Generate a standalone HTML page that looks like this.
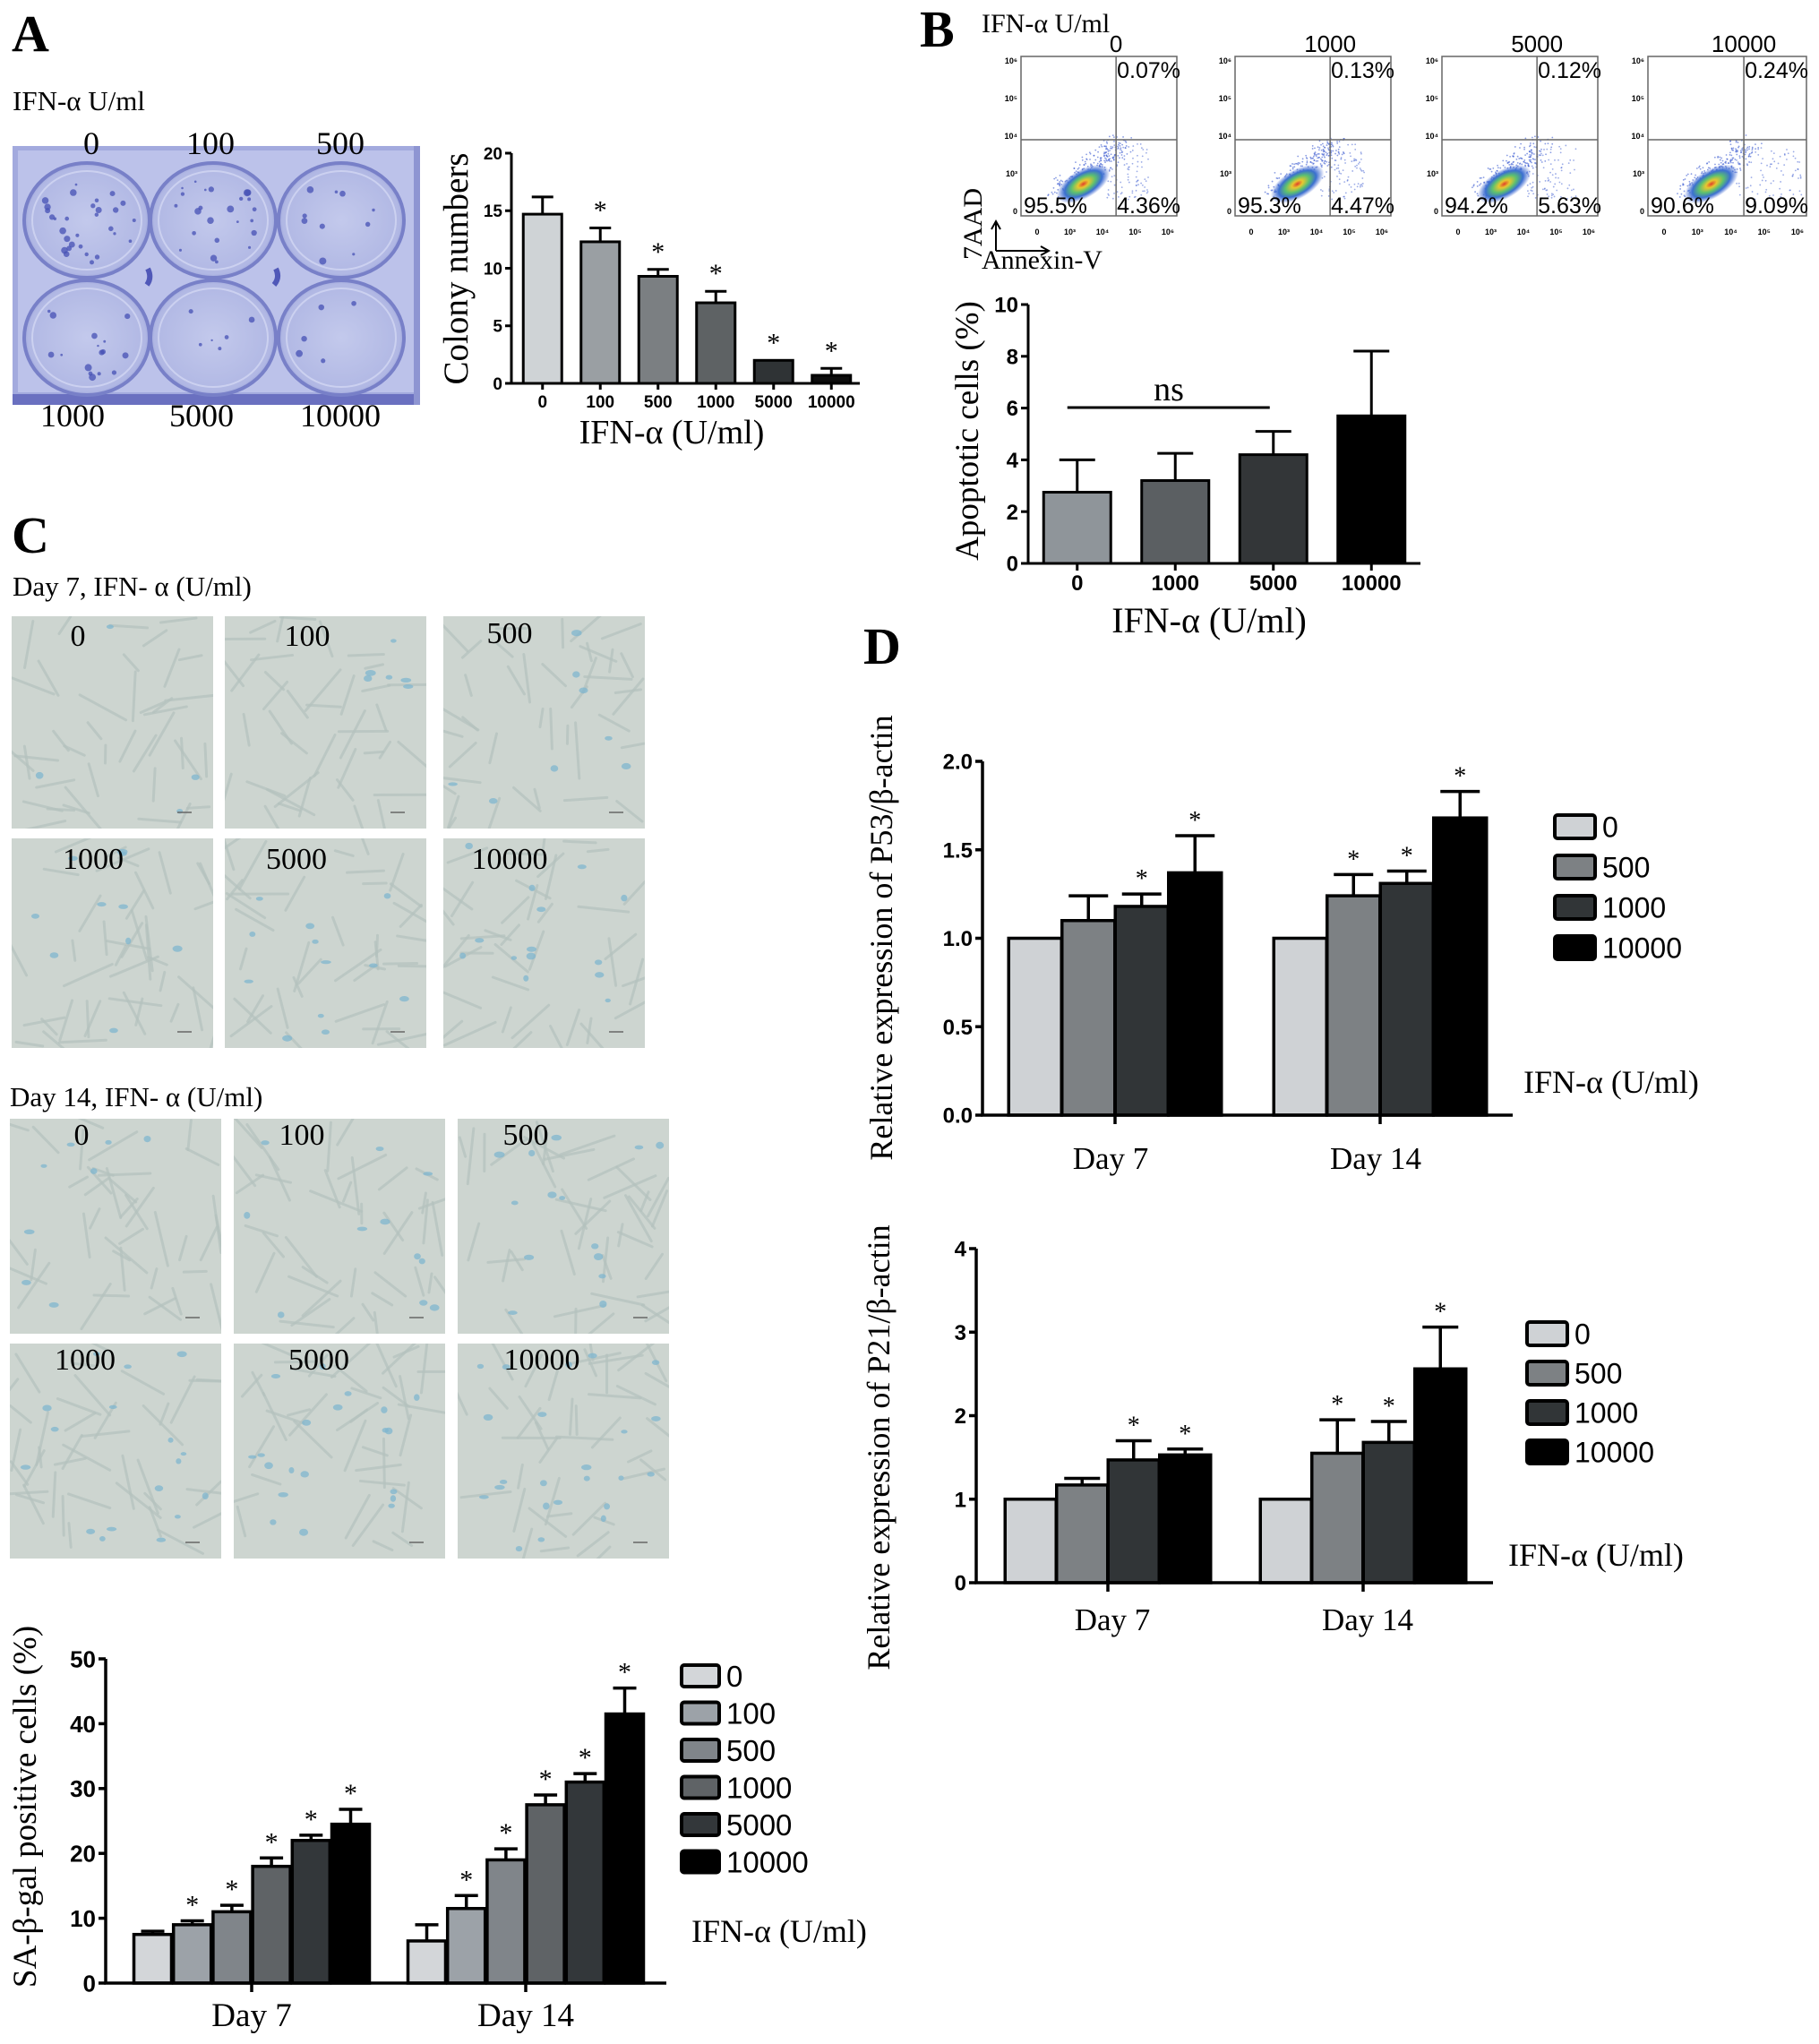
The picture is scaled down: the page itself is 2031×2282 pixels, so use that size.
<!DOCTYPE html>
<html><head><meta charset="utf-8">
<style>
html,body{margin:0;padding:0;background:#fff;}
svg{display:block;}
.serif{font-family:"Liberation Serif",serif;}
.sans{font-family:"Liberation Sans",sans-serif;}
</style></head>
<body>
<svg id="fig" width="2031" height="2282" viewBox="0 0 2031 2282" xmlns="http://www.w3.org/2000/svg">
<defs id="defs">
<radialGradient id="flowGrad" cx="50%" cy="50%" r="50%">
<stop offset="0%" stop-color="#e0402a"/>
<stop offset="20%" stop-color="#e8c830"/>
<stop offset="45%" stop-color="#5cc070"/>
<stop offset="70%" stop-color="#3a6fd0"/>
<stop offset="100%" stop-color="#3a5fd0" stop-opacity="0"/>
</radialGradient>
<radialGradient id="wellGrad" cx="50%" cy="50%" r="55%">
<stop offset="0%" stop-color="#c3c9ec"/>
<stop offset="85%" stop-color="#b1b8e4"/>
<stop offset="100%" stop-color="#8990d0"/>
</radialGradient>
</defs>
<g id="root"></g>
</svg>
<script>
// ---------- DATA ----------
const colonyCats = ["0","100","500","1000","5000","10000"];
const colonyVals = [14.7,12.3,9.3,7.0,2.0,0.7];
const colonyErr = [16.2,13.5,9.9,8.0,2.0,1.3];
const colonyStars = [false,true,true,true,true,true];
const colonyTicks = [0,5,10,15,20];

const apopCats = ["0","1000","5000","10000"];
const apopVals = [2.75,3.2,4.2,5.7];
const apopErr = [4.0,4.25,5.1,8.2];
const apopTicks = [0,2,4,6,8,10];

const flowDoses = ["0","1000","5000","10000"];
const flowUR = ["0.07%","0.13%","0.12%","0.24%"];
const flowLL = ["95.5%","95.3%","94.2%","90.6%"];
const flowLR = ["4.36%","4.47%","5.63%","9.09%"];

const saGroups = ["Day 7","Day 14"];
const saSeries = ["0","100","500","1000","5000","10000"];
const saDay7 = [7.5,9.0,11.0,18.0,22.0,24.5];
const saDay7Err = [8.0,9.6,12.0,19.3,22.8,26.8];
const saDay14 = [6.5,11.5,19.0,27.5,31.0,41.5];
const saDay14Err = [9.0,13.5,20.7,29.0,32.3,45.5];
const saDay7Stars = [false,true,true,true,true,true];
const saDay14Stars = [false,true,true,true,true,true];
const saTicks = [0,10,20,30,40,50];

const p53Groups = ["Day 7","Day 14"];
const p53Series = ["0","500","1000","10000"];
const p53Day7 = [1.0,1.1,1.18,1.37];
const p53Day7Err = [1.0,1.24,1.25,1.58];
const p53Day14 = [1.0,1.24,1.31,1.68];
const p53Day14Err = [1.0,1.36,1.38,1.83];
const p53Day7Stars = [false,false,true,true];
const p53Day14Stars = [false,true,true,true];
const p53Ticks = ["0.0","0.5","1.0","1.5","2.0"];

const p21Groups = ["Day 7","Day 14"];
const p21Series = ["0","500","1000","10000"];
const p21Day7 = [1.0,1.17,1.47,1.53];
const p21Day7Err = [1.0,1.25,1.70,1.60];
const p21Day14 = [1.0,1.55,1.68,2.56];
const p21Day14Err = [1.0,1.95,1.93,3.06];
const p21Day7Stars = [false,false,true,true];
const p21Day14Stars = [false,true,true,true];
const p21Ticks = [0,1,2,3,4];

// ---------- HELPERS ----------
const NS = "http://www.w3.org/2000/svg";
const root = document.getElementById("root");
const defs = document.getElementById("defs");
function el(tag, attrs, parent) {
  const e = document.createElementNS(NS, tag);
  for (const k in attrs) e.setAttribute(k, attrs[k]);
  (parent || root).appendChild(e);
  return e;
}
function txt(str, attrs, parent) {
  const t = el("text", attrs, parent);
  t.textContent = str;
  return t;
}
let seed = 7;
function rnd() { seed = (seed * 16807) % 2147483647; return seed / 2147483647; }

// ---------- PANEL LABELS ----------
[["A",13,57],["B",1027,52],["C",13,617],["D",964,741]].forEach(p => {
  const t = txt(p[0], {x:p[1], y:p[2], class:"serif", "font-size":58, "font-weight":"bold", fill:"#000"});
  
  
});

// ---------- PANEL A: PLATE ----------
const plateG = el("g", {});


let t0 = txt("IFN-α U/ml", {x:14, y:123, class:"serif", "font-size":31});


el("rect", {x:14, y:163, width:455, height:289, fill:"#a3aade"}, plateG);
el("rect", {x:20, y:168, width:443, height:270, fill:"#bcc2ea"}, plateG);
el("rect", {x:14, y:440, width:455, height:12, fill:"#6a70c0"}, plateG);
el("rect", {x:462, y:163, width:7, height:289, fill:"#8e95d2"}, plateG);
const wellCx = [97,238,381], wellCy = [246,377];
const wellDots = [30,24,10,16,6,5];
let wi = 0;
wellCy.forEach(cy => {
  wellCx.forEach(cx => {
    el("ellipse", {cx:cx, cy:cy, rx:70, ry:64, fill:"url(#wellGrad)", stroke:"#7880c8", "stroke-width":4}, plateG);
    el("ellipse", {cx:cx, cy:cy, rx:61, ry:55, fill:"none", stroke:"#ccd1f0", "stroke-width":2}, plateG);
    for (let k = 0; k < wellDots[wi]; k++) {
      const a = rnd() * 6.283, r = Math.sqrt(rnd()) * 55;
      el("circle", {cx:cx + Math.cos(a) * r, cy:cy + Math.sin(a) * r * 0.9, r:1.2 + rnd() * 2.8, fill:"#4650b4", opacity:0.75}, plateG);
    }
    wi++;
  });
});
el("path", {d:"M165 300 Q170 310 164 318 M308 300 Q313 310 306 318", stroke:"#5058b8", "stroke-width":6, fill:"none"}, plateG);
const plateTop = [["0",102],["100",235],["500",380]], plateBot = [["1000",81],["5000",225],["10000",380]];
plateTop.forEach(p => {
  const t = txt(p[0], {x:p[1], y:172, "text-anchor":"middle", class:"serif", "font-size":36});
  
  
});
plateBot.forEach(p => {
  const t = txt(p[0], {x:p[1], y:476, "text-anchor":"middle", class:"serif", "font-size":36});
  
  
});

// ---------- SIMPLE BAR CHART ----------
function simpleBar(cfg) {
  const g = el("g", {});
  
  
  const yS = v => cfg.y0 - v * (cfg.y0 - cfg.yTop) / cfg.max;
  const n = cfg.cats.length;
  const xS = i => cfg.xStart + cfg.pad + (i + 0.5) * cfg.step;
  for (let i = 0; i < n; i++) {
    const cx = xS(i);
    if (cfg.err[i] > cfg.vals[i] + 0.01) {
      const eb = el("path", {d:`M${cx} ${yS(cfg.vals[i])} V${yS(cfg.err[i])} M${cx - cfg.cap} ${yS(cfg.err[i])} H${cx + cfg.cap}`, stroke:"#000", "stroke-width":cfg.lw, fill:"none"}, g);
      
      
    }
    const r = el("rect", {x:cx - cfg.bw / 2, y:yS(cfg.vals[i]), width:cfg.bw, height:cfg.y0 - yS(cfg.vals[i]), fill:cfg.colors[i], stroke:"#000", "stroke-width":cfg.lw}, g);
    
    
    if (cfg.stars && cfg.stars[i]) {
      const s = txt("*", {x:cx, y:yS(Math.max(cfg.err[i], cfg.vals[i])) - cfg.starGap, "text-anchor":"middle", class:"serif", "font-size":cfg.starSize}, g);
      
      
    }
    const tk = el("line", {x1:cx, x2:cx, y1:cfg.y0, y2:cfg.y0 + cfg.tick, stroke:"#000", "stroke-width":cfg.lw}, g);
    
    
    const lb = txt(cfg.cats[i], {x:cx, y:cfg.xLabY, "text-anchor":"middle", class:"sans", "font-weight":"bold", "font-size":cfg.tickFont}, g);
    
    
  }
  const ax = el("path", {d:`M${cfg.xStart} ${cfg.yTop} V${cfg.y0} H${cfg.xEnd}`, stroke:"#000", "stroke-width":cfg.lw, fill:"none"}, g);
  
  
  cfg.ticks.forEach(v => {
    const y = yS(v);
    const tk = el("line", {x1:cfg.xStart - cfg.tick, x2:cfg.xStart, y1:y, y2:y, stroke:"#000", "stroke-width":cfg.lw}, g);
    
    
    const lb = txt(String(v), {x:cfg.xStart - cfg.tick - 3, y:y + cfg.tickFont * 0.36, "text-anchor":"end", class:"sans", "font-weight":"bold", "font-size":cfg.tickFont}, g);
    
    
  });
  const yt = txt(cfg.yTitle, {x:0, y:0, transform:`translate(${cfg.yTitleX},${cfg.yTitleY}) rotate(-90)`, "text-anchor":"middle", class:"serif", "font-size":cfg.yTitleSize}, g);
  
  
  const xt = txt(cfg.xTitle, {x:cfg.xTitleX, y:cfg.xTitleY, "text-anchor":"middle", class:"serif", "font-size":cfg.xTitleSize}, g);
  
  
  return {g, yS, xS};
}

simpleBar({name:"colony-chart", cats:colonyCats, vals:colonyVals, err:colonyErr, stars:colonyStars, ticks:colonyTicks, max:20,
  colors:["#cfd3d6","#9a9fa3","#7b7f82","#5e6264","#2f3335","#0d0d0d"],
  xStart:571, xEnd:960, pad:2.5, step:64.5, y0:428, yTop:171, bw:43, cap:12, lw:3, tick:7, tickFont:19, xLabY:455,
  starGap:10, starSize:30, yTitle:"Colony numbers", yTitleX:522, yTitleY:300, yTitleSize:39,
  xTitle:"IFN-α (U/ml)", xTitleX:750, xTitleY:495, xTitleSize:38});

const ap = simpleBar({name:"apoptosis-chart", cats:apopCats, vals:apopVals, err:apopErr, stars:null, ticks:apopTicks, max:10,
  colors:["#8f959a","#5b5f62","#333638","#000000"],
  xStart:1148, xEnd:1586, pad:0, step:109.5, y0:629, yTop:340, bw:75, cap:20, lw:3, tick:8, tickFont:24, xLabY:659,
  starGap:10, starSize:30, yTitle:"Apoptotic cells (%)", yTitleX:1092, yTitleY:481, yTitleSize:37,
  xTitle:"IFN-α (U/ml)", xTitleX:1350, xTitleY:706, xTitleSize:40});
{
  const ns = el("line", {x1:ap.xS(0) - 11, x2:ap.xS(2) - 4, y1:455, y2:455, stroke:"#000", "stroke-width":3});
  
  
  const nt = txt("ns", {x:1305, y:447, "text-anchor":"middle", class:"serif", "font-size":38});
  
  
}

// ---------- PANEL B: FLOW PLOTS ----------
{
  const bt = txt("IFN-α U/ml", {x:1096, y:36, class:"serif", "font-size":30});
  
  
  const boxX = [1140,1379,1610,1840];
  const boxW = [174,174,174,177];
  const vFrac = [0.61,0.61,0.61,0.605];
  const spread = [0.4,0.45,0.55,0.9];
  const expo = ["0","10³","10⁴","10⁵","10⁶"];
  const yexpo = ["10⁶","10⁵","10⁴","10³","0"];
  for (let i = 0; i < 4; i++) {
    const g = el("g", {});
    
    
    const x = boxX[i], w = boxW[i], y = 63, h = 178;
    const vx = x + w * vFrac[i], hy = 156;
    el("rect", {x:x, y:y, width:w, height:h, fill:"#fff", stroke:"#666", "stroke-width":1.5}, g);
    for (let k = 0; k < 220; k++) {
      const tt = rnd();
      const px = x + w * (0.25 + tt * 0.4) + (rnd() - 0.5) * 30;
      const py = y + h * (0.85 - tt * 0.3) + (rnd() - 0.5) * 22;
      el("circle", {cx:px, cy:py, r:0.9, fill:"#3a5ad0", opacity:0.6}, g);
    }
    for (let k = 0; k < 90; k++) {
      const px = x + w * (0.55 + rnd() * (0.15 + spread[i] * 0.3));
      const py = y + h * (0.55 + rnd() * 0.35);
      el("circle", {cx:px, cy:py, r:0.9, fill:"#3a5ad0", opacity:0.5}, g);
    }
    el("ellipse", {cx:x + w * 0.4, cy:y + h * 0.8, rx:w * 0.19, ry:h * 0.09, fill:"url(#flowGrad)", transform:`rotate(-30 ${x + w * 0.4} ${y + h * 0.8})`}, g);
    el("line", {x1:vx, x2:vx, y1:y, y2:y + h, stroke:"#666", "stroke-width":1.5}, g);
    el("line", {x1:x, x2:x + w, y1:hy, y2:hy, stroke:"#666", "stroke-width":1.5}, g);
    const d = txt(flowDoses[i], {x:vx, y:58, "text-anchor":"middle", class:"sans", "font-size":26}, g);
    
    
    const a = txt(flowUR[i], {x:vx + 1, y:87, class:"sans", "font-size":25}, g);
    
    
    const b = txt(flowLL[i], {x:x + 3, y:238, class:"sans", "font-size":25}, g);
    
    
    const c = txt(flowLR[i], {x:vx + 1, y:238, class:"sans", "font-size":25}, g);
    
    
    expo.forEach((e, j) => {
      const tt = txt(e, {x:x + 18 + j * (w - 28) / 4, y:262, "text-anchor":"middle", class:"sans", "font-weight":"bold", "font-size":9}, g);
      
      
    });
    yexpo.forEach((e, j) => {
      const tt = txt(e, {x:x - 4, y:y + 8 + j * 42, "text-anchor":"end", class:"sans", "font-weight":"bold", "font-size":9}, g);
      
      
    });
  }
  const ar = el("path", {d:"M1112 280 V248 M1107 256 L1112 247 L1117 256 M1112 280 H1170 M1162 275 L1171 280 L1162 285", stroke:"#000", "stroke-width":2, fill:"none"});
  
  
  const y7 = txt("7AAD", {x:0, y:0, transform:"translate(1096,250) rotate(-90)", "text-anchor":"middle", class:"serif", "font-size":30});
  
  
  const xa = txt("Annexin-V", {x:1096, y:300, class:"serif", "font-size":30});
  
  
}

// ---------- PANEL C: MICROGRAPHS ----------
let clipN = 0;
function micro(x, y, w, h, label, lx, ly, nBlue) {
  const cid = "mc" + (clipN++);
  const cp = el("clipPath", {id:cid}, defs);
  el("rect", {x:x, y:y, width:w, height:h}, cp);
  const g = el("g", {"clip-path":"url(#" + cid + ")"});
  
  
  el("rect", {x:x, y:y, width:w, height:h, fill:"#cdd5d0"}, g);
  for (let k = 0; k < 40; k++) {
    const cx = x + rnd() * w, cy = y + rnd() * h;
    const a = rnd() * 3.14, L = 10 + rnd() * 22;
    el("line", {x1:cx - Math.cos(a) * L, y1:cy - Math.sin(a) * L, x2:cx + Math.cos(a) * L, y2:cy + Math.sin(a) * L, stroke:"#b4c2be", "stroke-width":3, opacity:0.7, "stroke-linecap":"round"}, g);
  }
  for (let k = 0; k < nBlue; k++) {
    const cx = x + 8 + rnd() * (w - 16), cy = y + 8 + rnd() * (h - 16);
    el("ellipse", {cx:cx, cy:cy, rx:3 + rnd() * 3, ry:2 + rnd() * 2, fill:"#7fb5cf", opacity:0.75}, g);
  }
  el("line", {x1:x + w - 40, x2:x + w - 24, y1:y + h - 18, y2:y + h - 18, stroke:"#666", "stroke-width":1.5}, g);
  const t = txt(label, {x:lx, y:ly, "text-anchor":"middle", class:"serif", "font-size":34}, g);
  
  
}
{
  const t7 = txt("Day 7, IFN- α (U/ml)", {x:14, y:665, class:"serif", "font-size":31});
  
  
  const cols = [[13,225],[251,225],[495,225]], rows = [[688,237],[936,234]];
  const labs = [["0",87,721],["100",343,721],["500",569,718],["1000",104,970],["5000",331,970],["10000",569,970]];
  let k = 0;
  rows.forEach(r => cols.forEach(c => { micro(c[0], r[0], c[1], r[1], labs[k][0], labs[k][1], labs[k][2], 4 + k * 2); k++; }));
  const t14 = txt("Day 14, IFN- α (U/ml)", {x:11, y:1235, class:"serif", "font-size":31});
  
  
  const cols2 = [[11,236],[261,236],[511,236]], rows2 = [[1249,240],[1500,240]];
  const labs2 = [["0",91,1278],["100",337,1278],["500",587,1278],["1000",95,1529],["5000",356,1529],["10000",605,1529]];
  k = 0;
  rows2.forEach(r => cols2.forEach(c => { micro(c[0], r[0], c[1], r[1], labs2[k][0], labs2[k][1], labs2[k][2], 8 + k * 3); k++; }));
}

// ---------- GROUPED BAR CHART ----------
function grouped(cfg) {
  const g = el("g", {});
  
  
  const yS = v => cfg.y0 - v * (cfg.y0 - cfg.yTop) / cfg.max;
  const ns = cfg.series.length;
  cfg.groups.forEach((gn, gi) => {
    const gc = cfg.groupX[gi];
    const vals = cfg.vals[gi], errs = cfg.errs[gi], stars = cfg.stars[gi];
    for (let i = 0; i < ns; i++) {
      const cx = gc + (i - (ns - 1) / 2) * cfg.pitch;
      if (errs[i] > vals[i] + 0.001) {
        const eb = el("path", {d:`M${cx} ${yS(vals[i])} V${yS(errs[i])} M${cx - cfg.cap} ${yS(errs[i])} H${cx + cfg.cap}`, stroke:"#000", "stroke-width":cfg.lw, fill:"none"}, g);
        
        
      }
      const r = el("rect", {x:cx - cfg.bw / 2, y:yS(vals[i]), width:cfg.bw, height:cfg.y0 - yS(vals[i]), fill:cfg.colors[i], stroke:"#000", "stroke-width":cfg.lw}, g);
      
      
      if (stars[i]) {
        const s = txt("*", {x:cx, y:yS(Math.max(errs[i], vals[i])) - cfg.starGap, "text-anchor":"middle", class:"serif", "font-size":cfg.starSize}, g);
        
        
      }
    }
    const tk = el("line", {x1:gc, x2:gc, y1:cfg.y0, y2:cfg.y0 + cfg.tick + 2, stroke:"#000", "stroke-width":cfg.lw}, g);
    
    
    const lb = txt(gn, {x:gc + cfg.labDx, y:cfg.xLabY, "text-anchor":"middle", class:"serif", "font-size":cfg.groupFont}, g);
    
    
  });
  const ax = el("path", {d:`M${cfg.xStart} ${cfg.yTop} V${cfg.y0} H${cfg.xEnd}`, stroke:"#000", "stroke-width":cfg.lw, fill:"none"}, g);
  
  
  cfg.ticks.forEach(v => {
    const y = yS(parseFloat(v));
    const tk = el("line", {x1:cfg.xStart - cfg.tick, x2:cfg.xStart, y1:y, y2:y, stroke:"#000", "stroke-width":cfg.lw}, g);
    
    
    const lb = txt(String(v), {x:cfg.xStart - cfg.tick - 3, y:y + cfg.tickFont * 0.36, "text-anchor":"end", class:"sans", "font-weight":"bold", "font-size":cfg.tickFont}, g);
    
    
  });
  cfg.series.forEach((s, i) => {
    const ly = cfg.legY + i * cfg.legStep;
    const lr = el("rect", {x:cfg.legX, y:ly - cfg.legH / 2, width:cfg.legW, height:cfg.legH, rx:3, fill:cfg.colors[i], stroke:"#000", "stroke-width":4}, g);
    
    
    const lt = txt(s, {x:cfg.legX + cfg.legW + 8, y:ly + cfg.legFont * 0.36, class:"sans", "font-size":cfg.legFont}, g);
    
    
  });
  const yt = txt(cfg.yTitle, {x:0, y:0, transform:`translate(${cfg.yTitleX},${cfg.yTitleY}) rotate(-90)`, "text-anchor":"middle", class:"serif", "font-size":cfg.yTitleSize}, g);
  
  
  const xt = txt("IFN-α (U/ml)", {x:cfg.xTitleX, y:cfg.xTitleY, class:"serif", "font-size":cfg.xTitleSize}, g);
  
  
}

grouped({name:"sa-beta-gal-chart", groups:saGroups, series:saSeries, vals:[saDay7, saDay14], errs:[saDay7Err, saDay14Err], stars:[saDay7Stars, saDay14Stars],
  colors:["#d3d6d9","#9ca2a8","#80858a","#5f6366","#33373a","#000000"], ticks:saTicks, max:50,
  xStart:118, xEnd:744, y0:2214, yTop:1852, groupX:[281,587], pitch:44.2, bw:42, cap:13, lw:3.5, tick:8, tickFont:26,
  xLabY:2262, labDx:0, groupFont:37, starGap:8, starSize:30,
  legX:761, legY:1871, legStep:41.5, legW:42, legH:24, legFont:33,
  yTitle:"SA-β-gal positive cells (%)", yTitleX:40, yTitleY:2017, yTitleSize:37, xTitleX:772, xTitleY:2168, xTitleSize:36});

grouped({name:"p53-chart", groups:p53Groups, series:p53Series, vals:[p53Day7, p53Day14], errs:[p53Day7Err, p53Day14Err], stars:[p53Day7Stars, p53Day14Stars],
  colors:["#cfd2d5","#7d8184","#313537","#000000"], ticks:p53Ticks, max:2,
  xStart:1097, xEnd:1689, y0:1245, yTop:850, groupX:[1245,1541], pitch:59.5, bw:59, cap:22, lw:3.5, tick:8, tickFont:24,
  xLabY:1305, labDx:-5, groupFont:35, starGap:8, starSize:28,
  legX:1736, legY:923, legStep:45, legW:45, legH:26, legFont:32,
  yTitle:"Relative expression of P53/β-actin", yTitleX:996, yTitleY:1047, yTitleSize:36, xTitleX:1701, xTitleY:1220, xTitleSize:36});

grouped({name:"p21-chart", groups:p21Groups, series:p21Series, vals:[p21Day7, p21Day14], errs:[p21Day7Err, p21Day14Err], stars:[p21Day7Stars, p21Day14Stars],
  colors:["#cfd2d5","#7d8184","#313537","#000000"], ticks:p21Ticks, max:4,
  xStart:1090, xEnd:1667, y0:1767, yTop:1394, groupX:[1237,1522], pitch:57.5, bw:57, cap:20, lw:3.5, tick:8, tickFont:24,
  xLabY:1820, labDx:5, groupFont:35, starGap:8, starSize:28,
  legX:1705, legY:1489, legStep:44, legW:45, legH:26, legFont:32,
  yTitle:"Relative expression of P21/β-actin", yTitleX:993, yTitleY:1616, yTitleSize:36, xTitleX:1684, xTitleY:1748, xTitleSize:36});
</script>
</body></html>
